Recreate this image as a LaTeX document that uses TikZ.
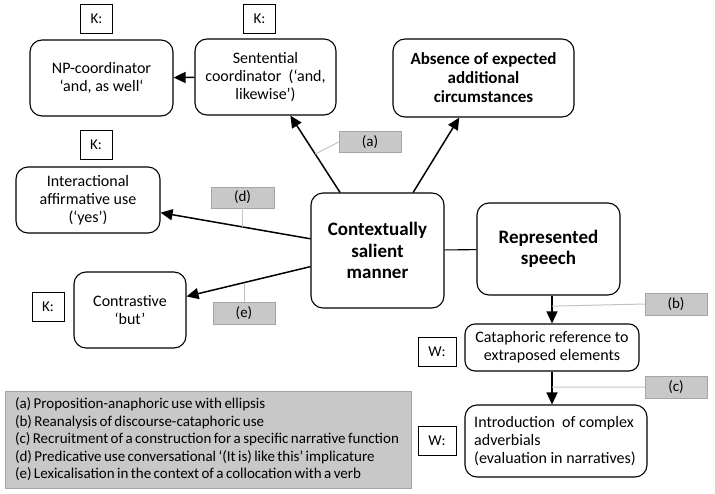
\documentclass[tikz,border=0pt]{standalone}
\usepackage{fontspec}
\setmainfont{Carlito}
\usetikzlibrary{arrows.meta, positioning}

\definecolor{tagfill}{RGB}{200,200,200}
\definecolor{tagdraw}{RGB}{165,165,165}
\definecolor{tagline}{RGB}{195,195,195}

\begin{document}
\begin{tikzpicture}[
      x=1pt, y=-1pt,
      concept/.style={rectangle, draw, rounded corners=12pt, line width=1.1pt, align=center, inner sep=0pt, font=\fontsize{16}{18}\selectfont},
      keyconcept/.style={concept, font=\fontsize{19}{21.5}\selectfont\bfseries},
      keybox/.style={rectangle, draw, line width=0.8pt, minimum width=32pt, minimum height=29pt, inner sep=0pt, font=\fontsize{15}{18}\selectfont},
      tag/.style={rectangle, draw=tagdraw, fill=tagfill, minimum width=62pt, minimum height=21pt, inner sep=0pt, font=\fontsize{15}{18}\selectfont},
      arrow/.style={-{Triangle[length=12pt,width=11pt]}, line width=1.5pt},
      tagwire/.style={draw=tagline, line width=1pt}
      ]

      \useasboundingbox (0,0) rectangle (715,493);

      % Top row
      \node[concept, minimum width=143pt, minimum height=76pt] (np) at (101.5,78) {NP-coordinator\\‘and, as well‘};
      \node[concept, minimum width=141pt, minimum height=76pt] (sent) at (265.5,77) {Sentential\\coordinator~ (‘and,\\likewise’)};
      \node[concept, minimum width=181pt, minimum height=78pt, font=\fontsize{17}{19}\selectfont\bfseries] (absence) at (483.5,78) {Absence of expected\\additional\\circumstances};

      % Middle
      \node[concept, minimum width=144pt, minimum height=66pt] (inter) at (88,200) {Interactional\\affirmative use\\(‘yes’)};
      \node[keyconcept, minimum width=133pt, minimum height=115pt] (csm) at (377.5,250.5) {Contextually\\salient\\manner};
      \node[keyconcept, minimum width=143pt, minimum height=92pt] (rep) at (548.5,249) {Represented\\speech};
      \node[concept, minimum width=112pt, minimum height=76pt] (contr) at (130,310) {Contrastive\\‘but’};

      % Right column
      \node[concept, rounded corners=10pt, minimum width=174pt, minimum height=47pt] (cat) at (552,347.5) {Cataphoric reference to\\extraposed elements};
      \node[concept, align=left, minimum width=182pt, minimum height=72pt] (intro) at (556,441) {Introduction~ of complex\\adverbials\\(evaluation in narratives)\hspace*{2pt}};

      % K and W boxes
      \node[keybox, above=6pt of np, xshift=-5pt] (knp) {K:};
      \node[keybox, above=5pt of sent, xshift=-6pt] (ksent) {K:};
      \node[keybox, above=7pt of inter, xshift=8pt] (kinter) {K:};
      \node[keybox, left=9pt of contr, yshift=3.5pt] (kcontr) {K:};
      \node[keybox, left=8pt of cat, minimum width=38pt, yshift=-4.5pt] (wcat) {W:};
      \node[keybox, left=8pt of intro, minimum width=38pt] (wintro) {W:};

      % Grey tags
      \node[tag] (ta) at (370,142) {(a)};
      \node[tag, minimum width=63pt] (td) at (242.5,197.5) {(d)};
      \node[tag, minimum height=22pt] (te) at (244,313) {(e)};
      \node[tag, minimum height=22pt] (tb) at (676,304) {(b)};
      \node[tag, minimum height=22pt] (tc) at (676,387) {(c)};

      % Legend
      \node[rectangle, draw=tagdraw, fill=tagfill, minimum width=406pt, minimum height=97pt, text width=386pt, inner xsep=10pt, align=left, font=\fontsize{15}{17.5}\selectfont] (legend) at (208,439.5) {\spaceskip=0.16em\relax (a) Proposition-anaphoric use with ellipsis\\(b) Reanalysis of discourse-cataphoric use\\(c) Recruitment of a construction for a specific narrative function\\(d) Predicative use conversational ‘(It is) like this’ implicature\\(e) Lexicalisation in the context of a collocation with a verb};

      % Arrows
      \draw[arrow] (sent) -- (np);
      \draw[arrow] (csm) -- coordinate[pos=0.5] (pa) (sent);
      \draw[arrow] (csm) -- (absence);
      \draw[arrow] (csm) -- coordinate[pos=0.45] (pd) (inter);
      \draw[arrow] (csm) -- coordinate[pos=0.536] (pe) (contr);
      \draw[line width=1.1pt] (csm) -- (rep);
      \draw[arrow] (rep.south -| cat.north) -- coordinate[pos=0.38] (pb) (cat.north);
      \draw[arrow] (cat.south) -- coordinate[pos=0.47] (pc) (cat.south |- intro.north);

      % Tag wires
      \draw[tagwire] (ta.west) -- (pa);
      \draw[tagwire] (td.south -| pd) -- (pd);
      \draw[tagwire] (te.north -| pe) -- (pe);
      \draw[tagwire] (tb.west) -- (pb);
      \draw[tagwire] (tc.west) -- (pc);

   \end{tikzpicture}
\end{document}
